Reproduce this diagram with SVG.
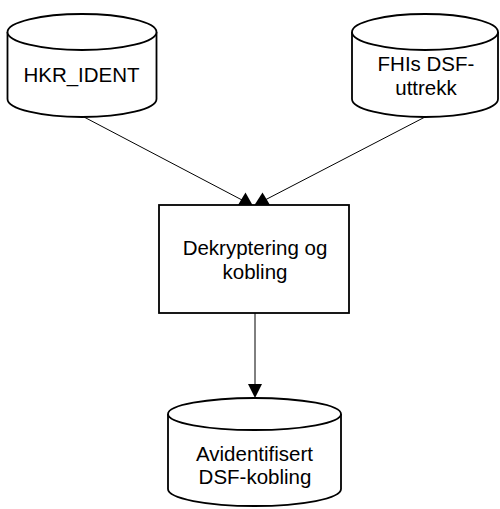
<svg xmlns="http://www.w3.org/2000/svg" width="500" height="509" viewBox="0 0 500 509">
  <style>
    .shape { fill: #ffffff; stroke: #000000; stroke-width: 1.8; }
    .edge { fill: none; stroke: #000000; stroke-width: 1; }
    .head { fill: #000000; stroke: none; }
    text { font-family: "Liberation Sans", Arial, sans-serif; font-size: 20.5px; fill: #000000; text-anchor: middle; }
  </style>
  <rect width="500" height="509" fill="#ffffff"/>

  <!-- connectors -->
  <g id="connectors">
    <line class="edge" x1="84" y1="117" x2="242" y2="200"/>
    <polygon class="head" points="252.5,205 238,205 245.5,192.5"/>
    <line class="edge" x1="425" y1="117" x2="265" y2="200"/>
    <polygon class="head" points="254.5,205 270,205 262.5,192.5"/>
    <line class="edge" x1="255" y1="313" x2="255" y2="385"/>
    <polygon class="head" points="248,384 262,384 255,398"/>
  </g>

  <!-- data store: HKR_IDENT -->
  <g id="hkr-ident">
    <path class="shape" d="M7.5,32 V99 A74.5,18 0 0 0 156.5,99 V32"/>
    <ellipse class="shape" cx="82" cy="32" rx="74.5" ry="18"/>
    <text x="81.5" y="82">HKR_IDENT</text>
  </g>

  <!-- data store: FHIs DSF-uttrekk -->
  <g id="fhi-dsf">
    <path class="shape" d="M352,32 V99 A73,18 0 0 0 498,99 V32"/>
    <ellipse class="shape" cx="425" cy="32" rx="73" ry="18"/>
    <text x="426" y="71">FHIs DSF-</text>
    <text x="426" y="94.5">uttrekk</text>
  </g>

  <!-- process: Dekryptering og kobling -->
  <g id="dekryptering">
    <rect class="shape" x="159" y="205" width="190" height="108"/>
    <text x="255" y="255">Dekryptering og</text>
    <text x="255" y="278.5">kobling</text>
  </g>

  <!-- data store: Avidentifisert DSF-kobling -->
  <g id="avidentifisert">
    <path class="shape" d="M168,414 V489 A86.5,17 0 0 0 341,489 V414"/>
    <ellipse class="shape" cx="254.5" cy="414" rx="86.5" ry="16"/>
    <text x="254.5" y="460.5">Avidentifisert</text>
    <text x="255" y="484">DSF-kobling</text>
  </g>
</svg>
